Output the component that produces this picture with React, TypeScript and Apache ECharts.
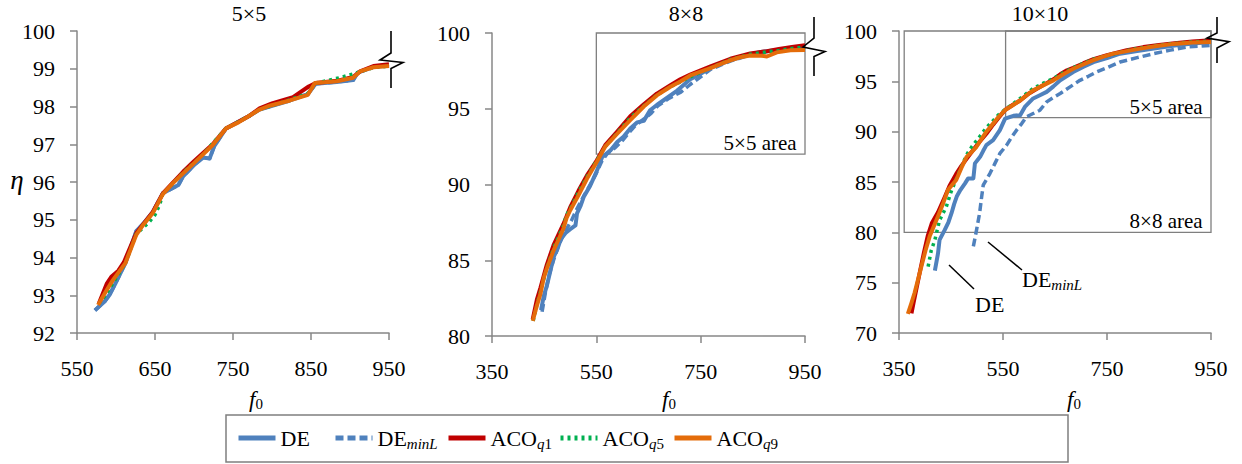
import React, { useEffect, useRef } from "react";
import * as echarts from "echarts";

const FONT = "Liberation Serif";

// ---------- data ----------
const seriesNames = ["DE", "DE_minL", "ACO_q1", "ACO_q5", "ACO_q9"];
const panelTitles = ["5×5", "8×8", "10×10"];

const xTicks5 = [550, 650, 750, 850, 950];
const yTicks5 = [92, 93, 94, 95, 96, 97, 98, 99, 100];
const xTicks8 = [350, 550, 750, 950];
const yTicks8 = [80, 85, 90, 95, 100];
const xTicks10 = [350, 550, 750, 950];
const yTicks10 = [70, 75, 80, 85, 90, 95, 100];

// 5x5
const DE_5 = [[573,92.6],[586,92.85],[592,93.02],[599,93.3],[612,93.85],[626,94.7],[636,94.92],[647,95.2],[660,95.7],[680,95.92],[686,96.15],[700,96.45],[712,96.65],[720,96.62],[726,96.95],[741,97.42],[770,97.74],[784,97.92],[823,98.16],[846,98.33],[856,98.6],[883,98.65],[904,98.7],[910,98.9],[930,99.05],[950,99.08]];
const DEminL_5 = [[573,92.6],[586,92.85],[592,93.02],[599,93.3],[612,93.85],[626,94.7],[636,94.92],[647,95.2],[660,95.7],[680,95.92],[686,96.15],[700,96.45],[712,96.65],[720,96.62],[726,96.95],[741,97.42],[770,97.74],[784,97.92],[823,98.16],[846,98.33],[856,98.6],[883,98.65],[904,98.7],[910,98.9],[930,99.05],[950,99.08]];
const ACOq1_5 = [[578,92.78],[588,93.3],[594,93.49],[603,93.65],[610,93.87],[626,94.65],[647,95.2],[660,95.7],[686,96.27],[700,96.55],[724,97.0],[741,97.42],[770,97.74],[784,97.95],[800,98.08],[827,98.25],[847,98.53],[856,98.62],[883,98.68],[904,98.78],[913,98.93],[930,99.07],[950,99.12]];
const ACOq5_5 = [[578,92.78],[586,92.98],[594,93.25],[612,93.85],[626,94.62],[643,94.95],[650,95.13],[656,95.4],[660,95.68],[686,96.25],[711,96.72],[741,97.42],[770,97.74],[784,97.92],[823,98.18],[846,98.35],[856,98.62],[872,98.69],[888,98.77],[905,98.87],[930,99.03],[950,99.07]];
const ACOq9_5 = [[577,92.74],[587,93.1],[596,93.4],[612,93.85],[626,94.6],[635,94.87],[647,95.17],[660,95.68],[673,95.97],[686,96.23],[699,96.48],[711,96.72],[724,96.98],[741,97.42],[757,97.58],[770,97.74],[784,97.92],[797,98.02],[823,98.16],[846,98.31],[855,98.62],[883,98.67],[904,98.76],[913,98.93],[930,99.04],[950,99.07]];

// 8x8
const DE_8 = [[444,81.7],[449,82.6],[455,83.3],[462,84.3],[468,85.2],[475,85.7],[482,86.4],[491,86.8],[500,87.05],[510,87.3],[513,88.1],[520,88.6],[526,89.2],[538,89.9],[551,90.9],[561,91.8],[577,92.25],[590,92.8],[602,93.15],[615,93.7],[628,94.1],[641,94.2],[653,94.9],[666,95.25],[679,95.56],[705,96.2],[730,96.95],[750,97.3],[769,97.72],[807,98.2],[835,98.5],[865,98.75],[900,98.9],[950,99.07]];
const DEminL_8 = [[446,81.6],[452,82.8],[460,84.1],[468,85.0],[478,86.0],[490,86.9],[502,87.6],[510,88.2],[522,89.0],[535,89.8],[548,90.6],[560,91.5],[570,92.0],[585,92.4],[600,92.9],[612,93.4],[625,93.9],[640,94.3],[646,94.45],[655,94.7],[668,95.2],[690,95.7],[712,96.1],[730,96.6],[750,97.1],[769,97.6],[807,98.15],[845,98.55],[877,98.78],[910,98.95],[950,99.05]];
const ACOq1_8 = [[428,81.1],[436,82.4],[443,83.2],[455,84.7],[468,86.0],[487,87.4],[500,88.5],[516,89.6],[532,90.6],[551,91.6],[567,92.6],[590,93.5],[615,94.5],[641,95.3],[666,96.0],[692,96.55],[711,96.95],[730,97.25],[769,97.8],[807,98.3],[845,98.65],[877,98.8],[900,98.95],[925,99.08],[950,99.2]];
const ACOq5_8 = [[429,81.0],[437,82.2],[445,83.2],[455,84.5],[468,85.8],[487,87.3],[493,88.0],[500,88.4],[516,89.5],[532,90.5],[551,91.6],[567,92.5],[590,93.4],[615,94.4],[641,95.2],[666,95.9],[692,96.45],[730,97.1],[769,97.7],[807,98.25],[845,98.6],[877,98.75],[900,98.85],[925,98.98],[950,99.08]];
const ACOq9_8 = [[428,81.0],[436,82.0],[443,82.8],[449,83.8],[455,84.45],[468,85.65],[478,86.4],[487,87.1],[493,87.8],[500,88.3],[516,89.3],[532,90.38],[551,91.5],[567,92.5],[590,93.35],[615,94.25],[641,95.15],[666,95.88],[692,96.45],[711,96.8],[730,97.2],[750,97.45],[769,97.68],[790,97.98],[807,98.2],[826,98.4],[845,98.52],[866,98.5],[877,98.45],[896,98.72],[922,98.86],[950,98.88]];

// 10x10
const DE_10 = [[419,76.2],[425,77.9],[428,79.25],[438,80.24],[445,81.0],[451,81.9],[456,82.8],[461,83.55],[468,84.2],[477,84.87],[483,85.36],[493,85.36],[496,86.85],[506,87.5],[512,88.1],[518,88.66],[531,89.16],[544,90.15],[554,91.3],[570,91.57],[583,91.64],[592,92.46],[608,93.3],[620,93.6],[634,93.95],[647,94.5],[660,95.1],[685,95.93],[705,96.45],[724,96.9],[750,97.3],[775,97.75],[808,98.0],[840,98.25],[880,98.55],[915,98.75],[950,98.9]];
const DEminL_10 = [[493,78.6],[499,80.2],[505,81.9],[509,83.55],[512,84.7],[525,85.86],[535,86.9],[544,87.84],[557,88.66],[566,89.4],[576,90.15],[586,90.8],[595,91.47],[608,91.8],[621,92.13],[634,92.96],[647,93.4],[660,93.79],[679,94.45],[698,95.1],[714,95.5],[730,95.93],[752,96.4],[775,96.92],[808,97.35],[840,97.75],[872,98.1],[904,98.41],[930,98.5],[950,98.57]];
const ACOq1_10 = [[374,71.95],[378,73.0],[384,74.5],[391,76.3],[398,78.0],[405,79.6],[413,80.9],[425,82.0],[438,83.5],[447,84.6],[460,85.8],[470,86.6],[480,87.3],[490,88.0],[505,89.0],[518,89.8],[531,90.7],[542,91.4],[554,92.15],[570,92.7],[583,93.1],[600,93.8],[620,94.4],[647,95.2],[660,95.7],[673,96.1],[685,96.35],[705,96.8],[724,97.2],[750,97.6],[788,98.1],[820,98.4],[850,98.6],[880,98.78],[914,98.95],[950,99.07]];
const ACOq5_10 = [[406,76.6],[412,78.2],[419,79.25],[428,81.2],[441,82.55],[450,84.0],[460,85.3],[470,86.5],[480,87.7],[490,88.5],[505,89.5],[518,90.4],[531,91.1],[542,91.7],[554,92.2],[570,92.8],[583,93.3],[608,94.3],[627,94.8],[647,95.3],[666,95.85],[685,96.35],[705,96.8],[724,97.2],[750,97.55],[788,98.05],[814,98.3],[846,98.55],[878,98.75],[914,98.92],[950,99.0]];
const ACOq9_10 = [[367,71.9],[374,73.0],[380,74.0],[387,75.4],[393,76.6],[401,78.2],[409,79.6],[417,80.6],[425,81.6],[435,82.9],[444,84.2],[452,84.7],[460,85.2],[470,86.4],[480,87.5],[490,88.0],[499,88.5],[509,89.3],[518,90.0],[531,90.8],[542,91.5],[554,92.15],[568,92.6],[583,93.1],[595,93.6],[608,94.1],[627,94.6],[647,95.1],[666,95.7],[685,96.25],[705,96.7],[724,97.1],[743,97.45],[762,97.75],[788,98.0],[814,98.25],[846,98.5],[878,98.72],[914,98.85],[950,98.9]];

// area boxes (data coordinates) and labels
const areas8 = [{ from: [550, 92], to: [950, 100], label: "5×5 area" }];
const areas10 = [
  { from: [360, 80], to: [950, 100], label: "8×8 area" },
  { from: [555, 91.4], to: [950, 100], label: "5×5 area" },
];

// legend item positions (px of icon start)
const legendLeft = [236, 333, 446, 558, 672];

// ---------- layout / style ----------
const grids = [
  { left: 77, top: 31, width: 312, height: 302 },
  { left: 492, top: 33, width: 313, height: 303 },
  { left: 899, top: 31, width: 312, height: 302 },
];
const panelData = [
  { x: xTicks5, y: yTicks5, s: [DE_5, DEminL_5, ACOq1_5, ACOq5_5, ACOq9_5], areas: [] as any[] },
  { x: xTicks8, y: yTicks8, s: [DE_8, DEminL_8, ACOq1_8, ACOq5_8, ACOq9_8], areas: areas8 },
  { x: xTicks10, y: yTicks10, s: [DE_10, DEminL_10, ACOq1_10, ACOq5_10, ACOq9_10], areas: areas10 },
];
const lineStyles: any[] = [
  { color: "#4F81BD", width: 4, type: "solid" },
  { color: "#4F81BD", width: 3.5, type: [8, 4] },
  { color: "#C00000", width: 4, type: "solid" },
  { color: "#00B050", width: 3.5, type: [3, 4] },
  { color: "#E46C0A", width: 4, type: "solid" },
];
const AXIS_COLOR = "#878787";

const richSub = {
  si: { fontFamily: FONT, fontSize: 15, fontStyle: "italic", color: "#000", padding: [12, 0, 0, 0] },
  sn: { fontFamily: FONT, fontSize: 15, color: "#000", padding: [12, 0, 0, 0] },
  it: { fontFamily: FONT, fontSize: 23, fontStyle: "italic", color: "#000" },
};
const legendLabel: Record<string, string> = {
  DE: "DE",
  DE_minL: "DE{si|minL}",
  ACO_q1: "ACO{si|q}{sn|1}",
  ACO_q5: "ACO{si|q}{sn|5}",
  ACO_q9: "ACO{si|q}{sn|9}",
};

function buildOption(): any {
  const xAxis: any[] = [];
  const yAxis: any[] = [];
  const series: any[] = [];
  panelData.forEach((p, i) => {
    xAxis.push({
      type: "value",
      gridIndex: i,
      min: p.x[0],
      max: p.x[p.x.length - 1],
      interval: p.x[1] - p.x[0],
      axisLine: { show: true, lineStyle: { color: AXIS_COLOR, width: 1.5 } },
      axisTick: { show: true, length: 7, lineStyle: { color: AXIS_COLOR, width: 1.5 } },
      splitLine: { show: false },
      axisLabel: { color: "#000", fontFamily: FONT, fontSize: 22, margin: 24 },
    });
    yAxis.push({
      type: "value",
      gridIndex: i,
      min: p.y[0],
      max: p.y[p.y.length - 1],
      interval: p.y[1] - p.y[0],
      axisLine: { show: true, lineStyle: { color: AXIS_COLOR, width: 1.5 } },
      axisTick: { show: true, length: 7, lineStyle: { color: AXIS_COLOR, width: 1.5 } },
      splitLine: { show: false },
      axisLabel: { color: "#000", fontFamily: FONT, fontSize: 22, margin: 22 },
    });
    p.s.forEach((d, k) => {
      const ser: any = {
        type: "line",
        name: seriesNames[k],
        xAxisIndex: i,
        yAxisIndex: i,
        data: d,
        symbol: "none",
        showSymbol: false,
        clip: false,
        lineStyle: { ...lineStyles[k], join: "round" },
        itemStyle: { color: lineStyles[k].color },
        z: 3 + k,
      };
      if (k === 0 && p.areas.length) {
        ser.markArea = {
          silent: true,
          itemStyle: { color: "rgba(0,0,0,0)", borderColor: "#7F7F7F", borderWidth: 1.3 },
          label: {
            show: true,
            position: "insideBottomRight",
            color: "#000",
            fontFamily: FONT,
            fontSize: 21,
            distance: 3,
            offset: [-6, 2],
          },
          data: p.areas.map((a: any) => [
            { name: a.label, coord: a.from },
            { coord: a.to },
          ]),
        };
      }
      series.push(ser);
    });
  });

  const titleX = [249, 686, 1040];
  const f0X = [256, 669, 1074];
  const graphic: any[] = [];
  panelTitles.forEach((t, i) => {
    graphic.push({
      type: "text",
      x: titleX[i],
      y: 13,
      style: { text: t, fontFamily: FONT, fontSize: 22, fill: "#000", align: "center", verticalAlign: "middle" },
      silent: true,
    });
    graphic.push({
      type: "text",
      x: f0X[i],
      y: 399,
      style: {
        text: "{it|f}{sn|0}",
        rich: { ...richSub, sn: { ...richSub.sn, padding: [10, 0, 0, 0] } },
        align: "center",
        verticalAlign: "middle",
      },
      silent: true,
    });
  });
  graphic.push({
    type: "text",
    x: 17,
    y: 180,
    style: { text: "η", fontFamily: FONT, fontSize: 27, fontStyle: "italic", fill: "#000", align: "center", verticalAlign: "middle" },
    silent: true,
  });
  // axis break marks
  const breaks = [
    [[391, 31], [391, 53], [380, 60], [403, 62.5], [391, 68.5], [391, 88]],
    [[814, 17], [814, 38], [803, 47], [825, 51.5], [814, 56.5], [814, 76]],
    [[1217, 17], [1217, 33], [1207, 38], [1229, 41.7], [1217, 48], [1217, 63]],
  ];
  breaks.forEach((pts) =>
    graphic.push({
      type: "polyline",
      shape: { points: pts },
      style: { stroke: "#000", lineWidth: 1.6, fill: null },
      z: 100,
      silent: true,
    })
  );
  // annotation leaders in 10x10 panel
  graphic.push({ type: "line", shape: { x1: 949, y1: 265, x2: 974, y2: 289 }, style: { stroke: "#000", lineWidth: 1.5 }, silent: true });
  graphic.push({ type: "line", shape: { x1: 988, y1: 242, x2: 1022, y2: 270 }, style: { stroke: "#000", lineWidth: 1.5 }, silent: true });
  graphic.push({
    type: "text",
    x: 975,
    y: 304,
    style: { text: "DE", fontFamily: FONT, fontSize: 22, fill: "#000", align: "left", verticalAlign: "middle" },
    silent: true,
  });
  graphic.push({
    type: "text",
    x: 1022,
    y: 279,
    style: {
      text: "DE{si|minL}",
      fontFamily: FONT,
      fontSize: 22,
      fill: "#000",
      rich: richSub,
      align: "left",
      verticalAlign: "middle",
    },
    silent: true,
  });
  // legend frame
  graphic.push({
    type: "rect",
    shape: { x: 226, y: 415, width: 842, height: 47 },
    style: { stroke: "#7F7F7F", lineWidth: 1.5, fill: null },
    silent: true,
    z: 0,
  });

  const legend = seriesNames.map((n, i) => ({
    data: [n],
    left: legendLeft[i],
    top: 427,
    padding: 0,
    itemWidth: 37,
    itemHeight: 14,
    selectedMode: false,
    itemStyle: { opacity: 0 },
    lineStyle: { width: 5 },
    textStyle: { color: "#000", fontFamily: FONT, fontSize: 22, rich: richSub },
    formatter: (name: string) => legendLabel[name] || name,
  }));

  return {
    animation: false,
    backgroundColor: "#fff",
    textStyle: { fontFamily: FONT },
    grid: grids.map((g) => ({ ...g, containLabel: false })),
    xAxis,
    yAxis,
    series,
    legend,
    graphic,
  };
}

export default function App() {
  const ref = useRef<HTMLDivElement>(null);
  useEffect(() => {
    const chart = echarts.init(ref.current!, null, { renderer: "svg" });
    chart.setOption(buildOption());
    return () => chart.dispose();
  }, []);
  return (
    <div
      ref={ref}
      style={{ position: "fixed", left: 0, top: 0, width: 1242, height: 464, background: "#fff" }}
    />
  );
}
